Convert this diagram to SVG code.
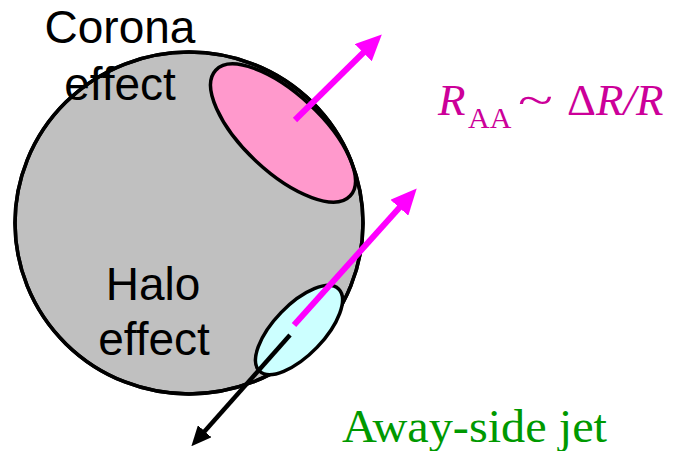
<svg xmlns="http://www.w3.org/2000/svg" width="676" height="451" viewBox="0 0 676 451">
<style>
.outline{stroke:#000;stroke-width:3.5}
.sans{font-family:"Liberation Sans",Arial,sans-serif;font-size:46px;fill:#000;text-anchor:middle}
.serif{font-family:"Liberation Serif","Times New Roman",serif}
.jet{fill:none;stroke:#FF00FF;stroke-width:6}
</style>
<defs>
<marker id="mh" markerUnits="userSpaceOnUse" markerWidth="26" markerHeight="24" refX="1" refY="12" orient="auto" viewBox="0 0 26 24">
<path d="M0,0 L26,12 L0,24 z" fill="#FF00FF"/>
</marker>
<marker id="kh" markerUnits="userSpaceOnUse" markerWidth="20" markerHeight="18" refX="1" refY="9" orient="auto" viewBox="0 0 20 18">
<path d="M0,0 L20,9 L0,18 z" fill="#000"/>
</marker>
</defs>
<rect width="676" height="451" fill="#fff"/>
<g id="nucleus">
<ellipse cx="189" cy="223" rx="174" ry="171" fill="#C0C0C0" class="outline"/>
</g>
<g id="corona-region">
<ellipse cx="283" cy="133" rx="92" ry="39" transform="rotate(43 283 133)" fill="#FF99CC" class="outline"/>
<ellipse cx="189" cy="223" rx="174" ry="171" fill="none" class="outline"/>
</g>
<g id="halo-region">
<ellipse cx="299" cy="330" rx="57" ry="25" transform="rotate(-46 299 330)" fill="#CCFFFF" class="outline"/>
</g>
<g id="corona-label">
<text class="sans" x="120" y="43">Corona</text>
<text class="sans" x="120" y="100">effect</text>
</g>
<g id="halo-label">
<text class="sans" x="153" y="300">Halo</text>
<text class="sans" x="154" y="355">effect</text>
</g>
<g id="connectors">
<line class="jet" x1="295" y1="120" x2="364" y2="52" marker-end="url(#mh)"/>
<line class="jet" x1="294" y1="325" x2="400" y2="207" marker-end="url(#mh)"/>
<line x1="290" y1="335" x2="204" y2="432" stroke="#000" stroke-width="4.5" marker-end="url(#kh)"/>
</g>
<g id="raa-label" class="serif" fill="#CC0099">
<text x="438" y="115" font-size="45" font-style="italic">R</text>
<text x="468" y="128" font-size="30">AA</text>
<text x="518" y="115" font-size="45" textLength="35" lengthAdjust="spacingAndGlyphs">~</text>
<text x="567" y="115" font-size="45">Δ<tspan font-style="italic">R/R</tspan></text>
</g>
<g id="away-label">
<text class="serif" x="342" y="442" font-size="46" fill="#009900" textLength="265" lengthAdjust="spacingAndGlyphs">Away-side jet</text>
</g>
</svg>
